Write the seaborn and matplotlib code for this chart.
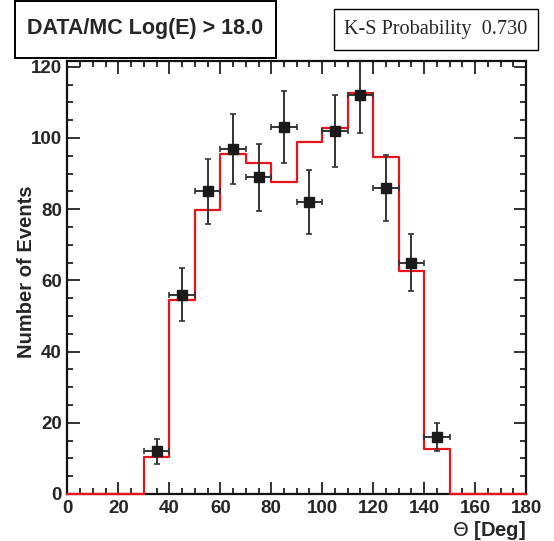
import numpy as np
import pandas as pd
import seaborn as sns
import matplotlib.pyplot as plt
from matplotlib.patches import Rectangle
from matplotlib.ticker import MultipleLocator

# theta bins (deg) and counts
bin_edges = list(range(0, 190, 10))
bin_centers = [e + 5 for e in bin_edges[:-1]]
mc_counts = [0, 0, 0, 10.3, 54.4, 79.7, 95.6, 93.0, 87.5, 99.0, 102.9, 112.5,
             94.7, 62.6, 12.5, 0, 0, 0]
data_theta = [35, 45, 55, 65, 75, 85, 95, 105, 115, 125, 135, 145]
data_counts = [12, 56, 85, 97, 89, 103, 82, 102, 112, 86, 65, 16]
ks_prob = 0.730

mc = pd.DataFrame({'theta': bin_centers, 'n': mc_counts})
data = pd.DataFrame({'theta': data_theta, 'n': data_counts})
data['err'] = np.sqrt(data['n'])

sns.set_style('ticks')
plt.rcParams['font.family'] = ['Liberation Sans', 'DejaVu Sans']

fig = plt.figure(figsize=(5.54, 5.41), dpi=100)
ax = fig.add_axes([0.1218, 0.0869, 0.8277, 0.7996])

sns.histplot(data=mc, x='theta', weights='n', bins=bin_edges, element='step',
             fill=False, color='#e8131b', linewidth=1.6, ax=ax)
for ln in ax.lines + list(ax.collections) + list(ax.patches):
    ln.set_clip_on(False)
    ln.set_zorder(3)
ax.errorbar(data['theta'], data['n'], xerr=5, yerr=data['err'], fmt='s',
            color='#1a1a1a', ecolor='#333333', markersize=7, elinewidth=1.4,
            capsize=2.5, capthick=1.2, zorder=4)

ax.set_xlim(0, 180)
ax.set_ylim(0, 121.5)
ax.xaxis.set_major_locator(MultipleLocator(20))
ax.xaxis.set_minor_locator(MultipleLocator(5))
ax.yaxis.set_major_locator(MultipleLocator(20))
ax.yaxis.set_minor_locator(MultipleLocator(5))
ax.tick_params(which='both', direction='in', top=True, right=True, width=1.3,
               color='#222222')
ax.tick_params(which='major', length=9, labelsize=13.5, pad=4)
ax.tick_params(which='minor', length=4.5)
for lab in ax.get_xticklabels() + ax.get_yticklabels():
    lab.set_fontweight('bold')
for sp in ax.spines.values():
    sp.set_linewidth(1.6)
    sp.set_color('#111111')

ax.set_xlabel(r'$\Theta$ [Deg]', fontsize=14.5, fontweight='bold', loc='right',
              labelpad=2)
ax.set_ylabel('Number of Events', fontsize=14.5, fontweight='bold')
ax.yaxis.set_label_coords(-0.069, 0.514)

# title box and K-S box
fig.patches.append(Rectangle((0.027, 0.893), 0.471, 0.105, transform=fig.transFigure,
                             fill=False, edgecolor='black', linewidth=1.4))
fig.text(0.2625, 0.948, 'DATA/MC Log(E) > 18.0', fontsize=15.5, fontweight='bold',
         ha='center', va='center')
fig.patches.append(Rectangle((0.603, 0.908), 0.368, 0.076, transform=fig.transFigure,
                             fill=False, edgecolor='black', linewidth=1.0))
fig.text(0.787, 0.946, f'K-S Probability  {ks_prob:.3f}', fontsize=14.6,
         family='Liberation Serif', ha='center', va='center')

fig.savefig('out.png', dpi=100)
